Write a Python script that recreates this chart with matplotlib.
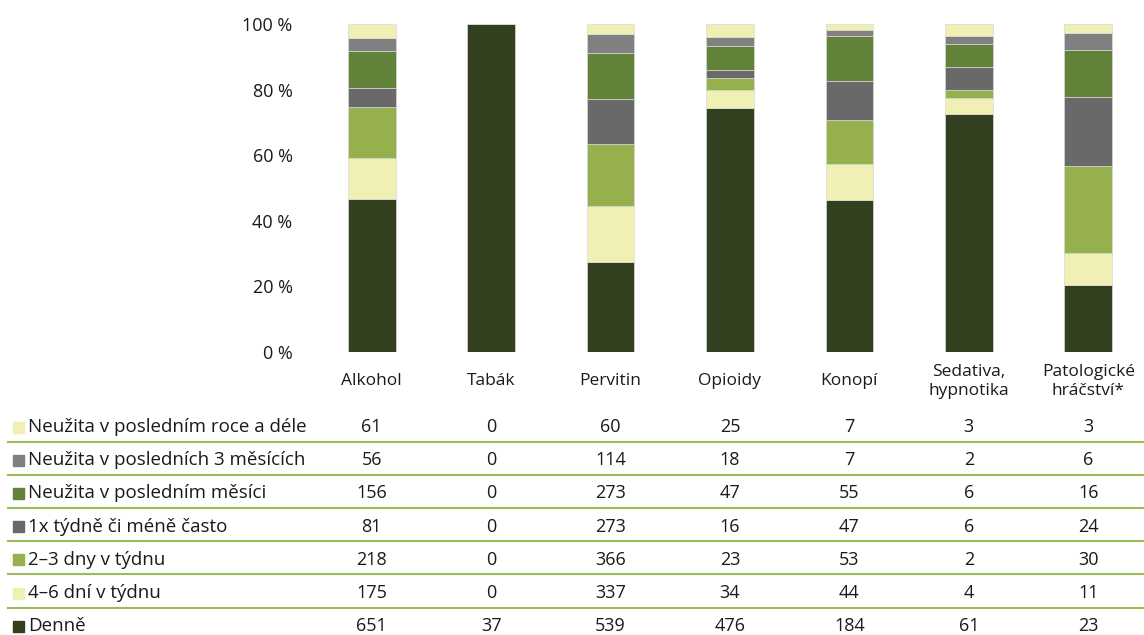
import matplotlib
matplotlib.use("Agg")
import matplotlib.pyplot as plt
import numpy as np

plt.rcParams['font.family'] = ['Open Sans', 'DejaVu Sans']

categories = ["Alkohol", "Tabák", "Pervitin", "Opioidy", "Konopí", "Sedativa,\nhypnotika", "Patologické\nhráčství*"]
series_names = ["Denně", "4–6 dní v týdnu", "2–3 dny v týdnu", "1x týdně či méně často",
                "Neužita v posledním měsíci", "Neužita v posledních 3 měsících", "Neužita v posledním roce a déle"]
denne = [651, 37, 539, 476, 184, 61, 23]
dni_4_6 = [175, 0, 337, 34, 44, 4, 11]
dny_2_3 = [218, 0, 366, 23, 53, 2, 30]
tydne_1x = [81, 0, 273, 16, 47, 6, 24]
mesic = [156, 0, 273, 47, 55, 6, 16]
mesice_3 = [56, 0, 114, 18, 7, 2, 6]
rok = [61, 0, 60, 25, 7, 3, 3]
yticks = [0, 20, 40, 60, 80, 100]
ytick_labels = ["0 %", "20 %", "40 %", "60 %", "80 %", "100 %"]

series = [denne, dni_4_6, dny_2_3, tydne_1x, mesic, mesice_3, rok]
colors = ["#33401F", "#F0EFB4", "#95B04D", "#696969", "#62823A", "#808080", "#F0EFB4"]

W, H = 1144, 635
fig = plt.figure(figsize=(W / 100, H / 100), dpi=100)
ax_left, ax_right, ax_top, ax_bot = 312, 1148, 24, 352
ax = fig.add_axes([ax_left / W, 1 - ax_bot / H, (ax_right - ax_left) / W, (ax_bot - ax_top) / H])

data = np.array(series, dtype=float)
totals = data.sum(axis=0)
pct = data / totals * 100
x = np.arange(len(categories))
bottom = np.zeros(len(categories))
for vals, col in zip(pct, colors):
    ax.bar(x, vals, bottom=bottom, width=0.4, color=col, edgecolor="#d8d8d8", linewidth=0.5)
    bottom += vals

txt = "#1a1a1a"
ax.set_xlim(-0.5, len(categories) - 0.5)
ax.set_ylim(0, 100)
ax.set_yticks(yticks)
ax.set_yticklabels(ytick_labels, fontsize=13, color=txt)
ax.tick_params(axis="y", length=0, pad=14)
ax.set_xticks(x)
ax.set_xticklabels(categories, fontsize=12.5, color=txt, va="center", linespacing=1.25)
ax.tick_params(axis="x", length=0, pad=21)
for s in ax.spines.values():
    s.set_visible(False)

# data table
row_h = 33.2
row0 = 427
table_rows = list(reversed(list(zip(series_names, series, colors))))
for i, (name, vals, col) in enumerate(table_rows):
    yc = row0 + i * row_h
    yf = 1 - yc / H
    fig.patches.append(plt.Rectangle((13 / W, yf - 5.5 / H), 11 / W, 11 / H,
                                     transform=fig.transFigure, color=col, figure=fig))
    fig.text(28 / W, yf, name, fontsize=13.5, va="center", ha="left", color=txt)
    for xi, v in zip(x, vals):
        xpix = ax_left + (xi + 0.5) * (ax_right - ax_left) / len(categories)
        fig.text(xpix / W, yf, str(v), fontsize=13, va="center", ha="center", color=txt)
    if i < len(table_rows) - 1:
        yl = 1 - (yc + row_h / 2 - 2) / H
        fig.add_artist(plt.Line2D([8 / W, 1], [yl, yl], transform=fig.transFigure,
                                  color="#9BBB59", linewidth=1.5))

fig.savefig("out.png", dpi=100)
